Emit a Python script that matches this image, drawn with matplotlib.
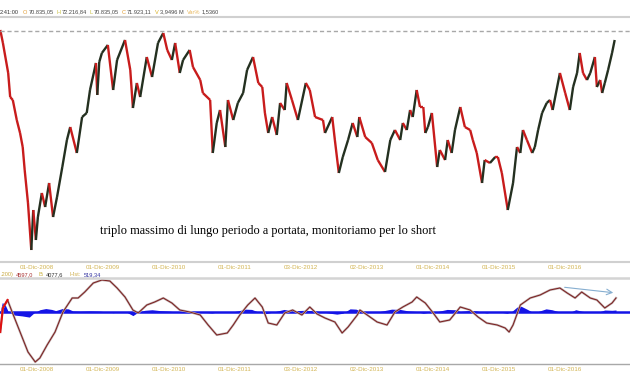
import matplotlib
matplotlib.use("Agg")
import matplotlib.pyplot as plt
from matplotlib.collections import LineCollection

plt.rcParams["font.family"] = ["Liberation Sans", "DejaVu Sans"]

# Price series (decimal year, index points)
price_t = [2008.36, 2008.40, 2008.48, 2008.51, 2008.55, 2008.61, 2008.66, 2008.70, 2008.73, 2008.78,
           2008.83, 2008.86, 2008.90, 2008.93, 2008.99, 2009.04, 2009.10, 2009.16, 2009.22, 2009.30,
           2009.37, 2009.42, 2009.52, 2009.60, 2009.67, 2009.72, 2009.81, 2009.83, 2009.86, 2009.90,
           2009.99, 2010.07, 2010.13, 2010.25, 2010.33, 2010.37, 2010.43, 2010.48, 2010.58, 2010.66,
           2010.75, 2010.83, 2010.89, 2010.96, 2011.01, 2011.08, 2011.13, 2011.23, 2011.28, 2011.39,
           2011.43, 2011.54, 2011.58, 2011.64, 2011.69, 2011.77, 2011.81, 2011.89, 2011.96, 2012.04,
           2012.10, 2012.19, 2012.27, 2012.33, 2012.37, 2012.42, 2012.48, 2012.55, 2012.60, 2012.67,
           2012.70, 2012.78, 2012.87, 2012.99, 2013.05, 2013.13, 2013.25, 2013.28, 2013.39, 2013.43,
           2013.49, 2013.55, 2013.63, 2013.70, 2013.77, 2013.80, 2013.89, 2013.99, 2014.08, 2014.19,
           2014.27, 2014.34, 2014.42, 2014.46, 2014.52, 2014.57, 2014.61, 2014.67, 2014.72, 2014.77,
           2014.80, 2014.84, 2014.90, 2014.98, 2015.02, 2015.10, 2015.14, 2015.20, 2015.25, 2015.33,
           2015.40, 2015.48, 2015.52, 2015.58, 2015.66, 2015.70, 2015.78, 2015.86, 2015.90, 2015.96,
           2016.05, 2016.13, 2016.19, 2016.24, 2016.28, 2016.34, 2016.42, 2016.46, 2016.51, 2016.57,
           2016.64, 2016.69, 2016.73, 2016.84, 2016.92, 2016.99, 2017.04, 2017.10, 2017.14, 2017.19,
           2017.25, 2017.30, 2017.37, 2017.40, 2017.45, 2017.48, 2017.52, 2017.57, 2017.63, 2017.67]
price_v = [73700, 71090, 65060, 60230, 59630, 55610, 53000, 50180, 45560, 38930,
           29480, 37520, 31490, 36110, 40940, 38120, 42950, 36110, 40130, 46160,
           51590, 54200, 48980, 56210, 57020, 61640, 67070, 60640, 67270, 69080,
           70690, 61640, 67670, 71690, 65660, 58020, 63050, 60230, 68270, 64250,
           71090, 73100, 69680, 67670, 71090, 65060, 67670, 69680, 66260, 63650,
           61040, 59630, 48980, 55010, 57620, 50180, 59630, 55610, 59030, 61040,
           65660, 68270, 63050, 62240, 57020, 53000, 56210, 52600, 59030, 57620,
           63050, 59630, 55610, 63050, 61640, 56210, 55610, 53000, 56210, 51590,
           44960, 48170, 51590, 55010, 52190, 56210, 52190, 50990, 47570, 45160,
           51590, 53600, 51590, 55010, 53600, 57620, 56210, 61640, 58220, 58220,
           53000, 54200, 57020, 46160, 49580, 47570, 51590, 48980, 53600, 58220,
           54200, 53600, 51590, 48980, 42950, 47570, 46970, 48170, 48170, 44960,
           37520, 42950, 50180, 48980, 53600, 51590, 48980, 50180, 53600, 57020,
           59030, 59630, 57620, 65060, 61040, 57620, 62240, 65060, 69080, 65060,
           63650, 65060, 68270, 62240, 63650, 61040, 63050, 65660, 69080, 71690]
resistance = 73500

# MACD-style oscillator
osc_t = [2008.36, 2008.40, 2008.47, 2008.54, 2008.66, 2008.78, 2008.89, 2008.96, 2009.07, 2009.19,
         2009.31, 2009.45, 2009.54, 2009.64, 2009.77, 2009.90, 2010.02, 2010.13, 2010.25, 2010.37,
         2010.45, 2010.58, 2010.70, 2010.83, 2010.96, 2011.08, 2011.23, 2011.39, 2011.51, 2011.64,
         2011.80, 2011.89, 2011.99, 2012.11, 2012.22, 2012.33, 2012.42, 2012.55, 2012.67, 2012.79,
         2012.93, 2013.05, 2013.16, 2013.28, 2013.43, 2013.54, 2013.63, 2013.77, 2013.81, 2013.92,
         2014.07, 2014.22, 2014.34, 2014.46, 2014.60, 2014.67, 2014.80, 2014.92, 2015.02, 2015.17,
         2015.33, 2015.48, 2015.60, 2015.73, 2015.89, 2016.01, 2016.07, 2016.13, 2016.24, 2016.39,
         2016.54, 2016.69, 2016.84, 2016.95, 2017.07, 2017.17, 2017.30, 2017.40, 2017.52, 2017.63,
         2017.69]
osc_v = [-6970, 1190, 3910, -170, -6970, -13770, -17170, -15810, -11390, -6970,
         -170, 4590, 4590, 6630, 9690, 10710, 10370, 7990, 4930, 510,
         -510, 2210, 3230, 4590, 2890, 510, -170, -1190, -4590, -7990,
         -7310, -4590, -1190, 2210, 4590, 1530, -3910, -4590, -510, 510,
         -1190, 1530, -850, -2210, -3570, -7310, -5270, -1190, 510, -1190,
         -3570, -4590, -170, 1530, 3230, 4930, 2890, -510, -3570, -2890,
         1530, 510, -1870, -3910, -4590, -5610, -6970, -4590, 2210, 4590,
         5610, 7310, 7990, 6290, 4590, 6630, 4590, 3910, 1190, 2890,
         4590]

hist_t = [2008.36, 2008.39, 2008.43, 2008.48, 2008.57, 2008.69, 2008.80, 2008.87, 2008.96, 2009.05,
          2009.14, 2009.20, 2009.30, 2009.39, 2009.46, 2009.57, 2009.72, 2009.87, 2009.96, 2010.07,
          2010.17, 2010.28, 2010.37, 2010.45, 2010.55, 2010.66, 2010.78, 2010.93, 2011.08, 2011.23,
          2011.39, 2011.57, 2011.69, 2011.84, 2011.96, 2012.08, 2012.17, 2012.25, 2012.39, 2012.51,
          2012.66, 2012.78, 2012.96, 2013.08, 2013.20, 2013.36, 2013.46, 2013.55, 2013.66, 2013.75,
          2013.84, 2013.99, 2014.11, 2014.29, 2014.42, 2014.54, 2014.66, 2014.77, 2014.87, 2014.99,
          2015.13, 2015.25, 2015.33, 2015.45, 2015.57, 2015.66, 2015.73, 2015.84, 2015.96, 2016.04,
          2016.11, 2016.19, 2016.25, 2016.34, 2016.43, 2016.51, 2016.63, 2016.72, 2016.81, 2016.93,
          2017.02, 2017.08, 2017.17, 2017.30, 2017.37, 2017.45, 2017.52, 2017.63, 2017.69]
hist_v = [0, 3000, 2500, 0, -1200, -1500, -1900, -500, 600, 1000,
          700, 300, 1000, 900, 200, 100, 200, 100, -100, -400,
          -100, -300, -1400, -200, 400, 600, 300, 100, -300, 0,
          -200, -500, 0, -300, 200, 800, 700, 0, -700, -100,
          700, 200, 400, 300, 0, -600, -900, -600, 900, 800,
          0, -300, 0, 800, 700, 200, 0, -600, -200, 0,
          700, 600, 0, 300, 200, -200, -500, 0, -300, -600,
          0, 1500, 1800, 800, -300, 0, 900, 600, 0, -300,
          0, 600, 100, -300, -200, 0, 500, 400, 520]

# trend line drawn on the oscillator (start, end)
trend_t = [2016.87, 2017.69]
trend_v = [8330, 6290]

tick_pos = [2008.917, 2009.917, 2010.917, 2011.917, 2012.922,
            2013.919, 2014.917, 2015.917, 2016.917]
tick_labels = ["01-Dic-2008", "01-Dic-2009", "01-Dic-2010", "01-Dic-2011", "03-Dic-2012",
               "02-Dic-2013", "01-Dic-2014", "01-Dic-2015", "01-Dic-2016"]

x_range = (2008.356, 2017.902)
gold = "#d2b452"
W, H = 630, 380


def fx(px):
    return px / W


def fy(py):
    return 1 - py / H


fig = plt.figure(figsize=(6.3, 3.8), dpi=100)
renderer = fig.canvas.get_renderer()

# main price panel
ax = fig.add_axes([0, fy(262), 1, (262 - 17) / H])
pts = list(zip(price_t, price_v))
segs = [[pts[i], pts[i + 1]] for i in range(len(pts) - 1)]
cols = ["#243020" if price_v[i + 1] > price_v[i] else "#c81c1c" for i in range(len(pts) - 1)]
ax.add_collection(LineCollection(segs, colors=cols, linewidths=1.7))
ax.axhline(resistance, color="#a8a8a8", lw=1.0, ls=(0, (3, 2)))
ax.set_xlim(*x_range)
ax.set_ylim(27070, 76310)
ax.text(2009.87, 33300, "triplo massimo di lungo periodo a portata, monitoriamo per lo short",
        family="Liberation Serif", fontsize=8.9, color="black", va="center")
for side in ["left", "right"]:
    ax.spines[side].set_visible(False)
for side in ["top", "bottom"]:
    ax.spines[side].set_color("#d0d0d0")
    ax.spines[side].set_linewidth(1.5)
ax.set_yticks([])
ax.set_xticks(tick_pos)
ax.set_xticklabels(tick_labels, fontsize=4.5, color=gold)
ax.tick_params(axis="x", length=0, pad=2.5)

# oscillator panel
ax2 = fig.add_axes([0, fy(364), 1, (364 - 278) / H])
ax2.fill_between(hist_t, hist_v, 0, color="#1414e6", lw=0)
ax2.axhline(0, color="#1414e6", lw=1.8)
ax2.plot(osc_t, osc_v, color="#c0b0b0", lw=1.6)
ax2.plot(osc_t, osc_v, color="#7a1c1c", lw=0.7)
ax2.plot(osc_t[:3], osc_v[:3], color="#e01010", lw=1.5)
ax2.annotate("", xy=(trend_t[1], trend_v[1]), xytext=(trend_t[0], trend_v[0]),
             arrowprops=dict(arrowstyle="->", color="#86aed0", lw=0.8))
ax2.set_xlim(*x_range)
ax2.set_ylim(-17850, 11390)
for side in ["left", "right"]:
    ax2.spines[side].set_visible(False)
ax2.spines["top"].set_color("#d4d4d4")
ax2.spines["top"].set_linewidth(1.8)
ax2.spines["bottom"].set_color("#a8a8a8")
ax2.spines["bottom"].set_linewidth(1.0)
ax2.set_yticks([])
ax2.set_xticks(tick_pos)
ax2.set_xticklabels(tick_labels, fontsize=4.5, color=gold)
ax2.tick_params(axis="x", length=0, pad=2.5)


def text_row(items, x0, py, size):
    # place pieces one after the other, each followed by its own gap in pixels
    x = x0
    for s, c, gap in items:
        t = fig.text(fx(x), fy(py), s, fontsize=size, color=c, va="center")
        bb = t.get_window_extent(renderer)
        x = bb.x1 + gap


# header line of the quote
header = [("2:41:00", "#333333", 4), ("O", "#e09a30", 1), ("70.835,05", "#444444", 3),
          ("H", "#c8c040", 1), ("72.216,84", "#444444", 3), ("L", "#c8c040", 1),
          ("70.835,05", "#444444", 3), ("C", "#e09a30", 1), ("71.923,11", "#444444", 3),
          ("V", "#d8b020", 1), ("3,9496 M", "#444444", 4), ("Var%", "#e8b860", 1),
          ("1,5360", "#444444", 0)]
text_row(header, 0, 12, 4.1)

osc_head = [(".200)", "#c8a840", 3), ("4597,0", "#a83030", 5), ("B:", "#c8b040", 2),
            ("4077,6", "#303030", 6), ("Hist:", "#d0b050", 3), ("519,34", "#3030a0", 0)]
text_row(osc_head, 0, 274.5, 4.1)

fig.savefig("out.png", dpi=100)
